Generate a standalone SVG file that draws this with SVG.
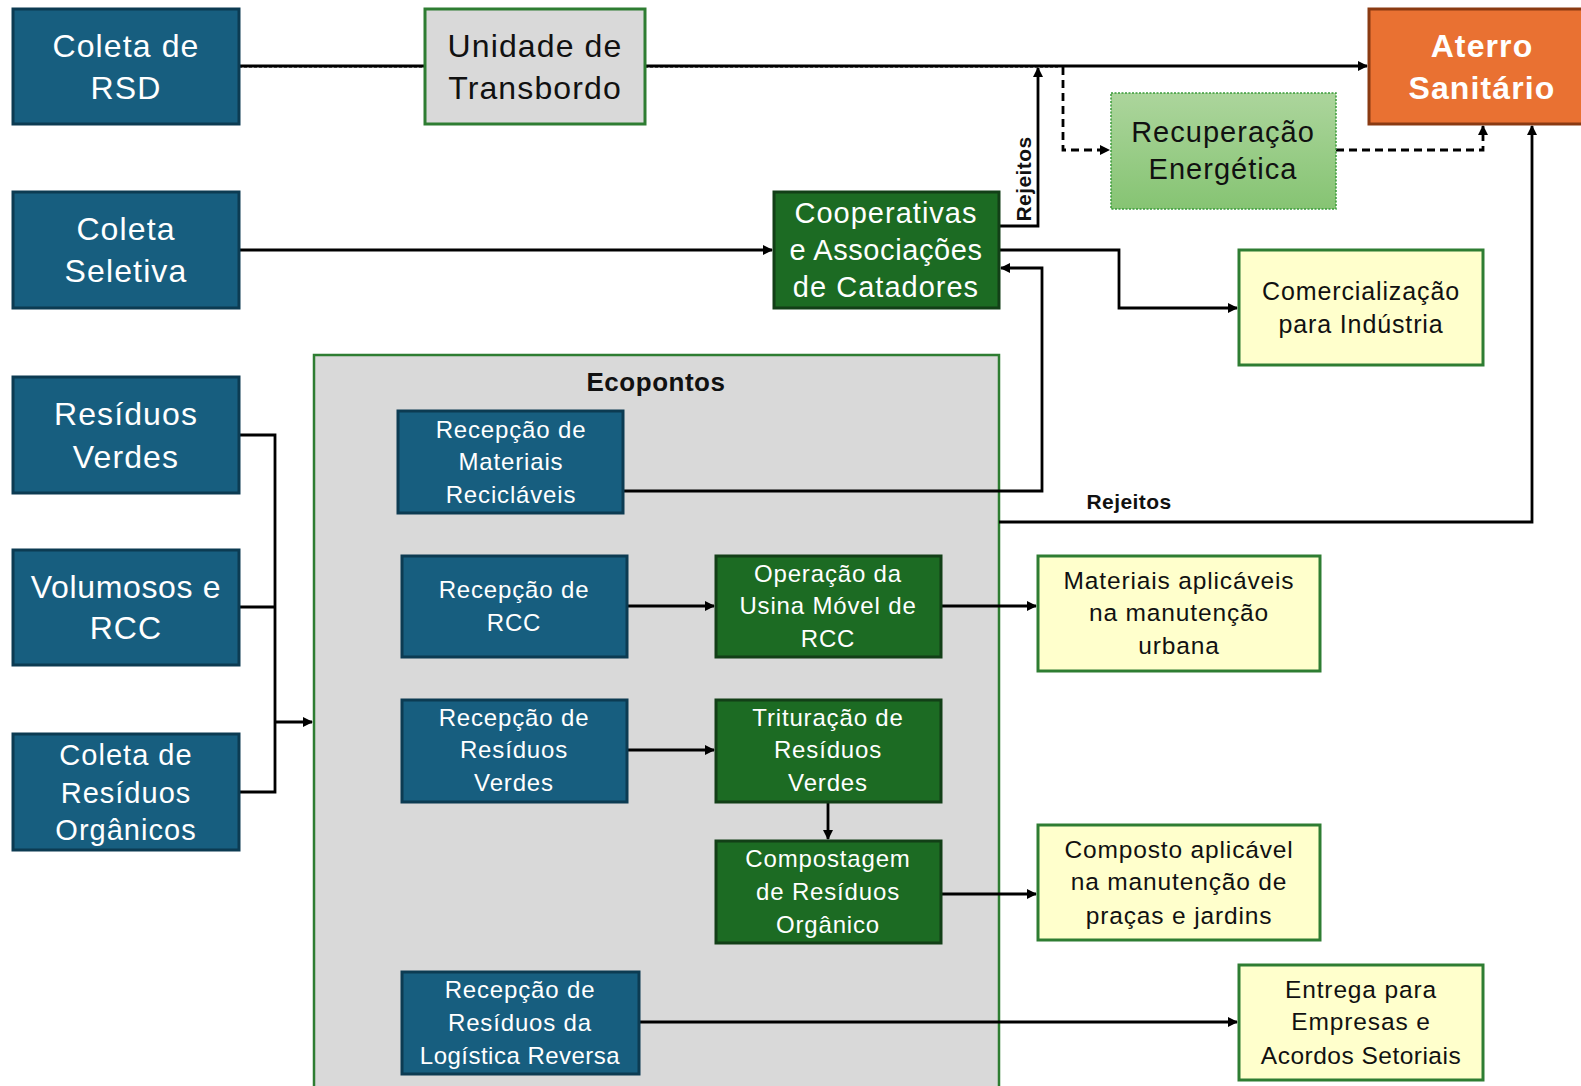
<svg xmlns="http://www.w3.org/2000/svg" width="1581" height="1086" viewBox="0 0 1581 1086">
<defs>
<marker id="arr" viewBox="0 0 10 10" refX="9" refY="5" markerWidth="10" markerHeight="10" markerUnits="userSpaceOnUse" orient="auto">
<path d="M0,0 L10,5 L0,10 z" fill="#000"/>
</marker>
<linearGradient id="gRec" x1="0" y1="0" x2="0" y2="1">
<stop offset="0" stop-color="#acd59c"/>
<stop offset="1" stop-color="#86c473"/>
</linearGradient>
<style>
text{font-family:"Liberation Sans",Arial,sans-serif;text-anchor:middle;letter-spacing:0.035em}
.blue{fill:#175e7f;stroke:#0c3b52;stroke-width:3}
.dgreen{fill:#1c6b23;stroke:#123f17;stroke-width:3}
.yellow{fill:#ffffcc;stroke:#2e7d32;stroke-width:3}
.w{fill:#fff}
.k{fill:#111}
.lab{font-size:21px;font-weight:bold;fill:#111;letter-spacing:0.02em}
.ln{fill:none;stroke:#000;stroke-width:2.8}
.dash{fill:none;stroke:#000;stroke-width:2.8;stroke-dasharray:8 5}
</style>
</defs>
<rect width="1581" height="1086" fill="#fff"/>

<g id="ecopontos">
<rect x="314" y="355" width="685" height="740" fill="#d9d9d9" stroke="#2e7d32" stroke-width="2.5"/>
<text x="656" y="391" font-size="26" font-weight="bold" class="k" style="letter-spacing:0.02em">Ecopontos</text>
</g>

<g id="connectors">
<line x1="239" y1="66" x2="425" y2="66" class="ln"/>
<line x1="239" y1="67" x2="425" y2="67" stroke="#000" stroke-width="1.2" stroke-dasharray="3 2"/>
<line x1="645" y1="66" x2="1367" y2="66" class="ln" marker-end="url(#arr)"/>
<line x1="645" y1="67" x2="1060" y2="67" stroke="#000" stroke-width="1.2" stroke-dasharray="3 2"/>
<path d="M1063,67 V150 H1109" class="dash" marker-end="url(#arr)"/>
<path d="M1336,150 H1483 V126" class="dash" marker-end="url(#arr)"/>
<path d="M999,226 H1038 V68" class="ln" marker-end="url(#arr)"/>
<line x1="239" y1="250" x2="772" y2="250" class="ln" marker-end="url(#arr)"/>
<path d="M999,250 H1119 V308 H1237" class="ln" marker-end="url(#arr)"/>
<path d="M623,491 H1042 V268 H1001" class="ln" marker-end="url(#arr)"/>
<path d="M999,522 H1532 V126" class="ln" marker-end="url(#arr)"/>
<path d="M239,435 H275 V792 H239" class="ln"/>
<line x1="239" y1="607" x2="275" y2="607" class="ln"/>
<line x1="275" y1="722" x2="312" y2="722" class="ln" marker-end="url(#arr)"/>
<line x1="627" y1="606" x2="714" y2="606" class="ln" marker-end="url(#arr)"/>
<line x1="941" y1="606" x2="1036" y2="606" class="ln" marker-end="url(#arr)"/>
<line x1="627" y1="750" x2="714" y2="750" class="ln" marker-end="url(#arr)"/>
<line x1="828" y1="802" x2="828" y2="839" class="ln" marker-end="url(#arr)"/>
<line x1="941" y1="894" x2="1036" y2="894" class="ln" marker-end="url(#arr)"/>
<line x1="639" y1="1022" x2="1237" y2="1022" class="ln" marker-end="url(#arr)"/>
<text x="1024" y="186" class="lab" transform="rotate(-90 1024 179)">Rejeitos</text>
<text x="1129" y="509" class="lab">Rejeitos</text>
</g>

<g id="coleta-rsd">
<rect x="13" y="9" width="226" height="115" class="blue"/>
<text x="126" y="57" font-size="32" class="w">Coleta de</text>
<text x="126" y="99" font-size="32" class="w">RSD</text>
</g>
<g id="unidade-transbordo">
<rect x="425" y="9" width="220" height="115" fill="#d9d9d9" stroke="#2e7d32" stroke-width="3"/>
<text x="535" y="57" font-size="32" class="k">Unidade de</text>
<text x="535" y="99" font-size="32" class="k">Transbordo</text>
</g>
<g id="aterro">
<rect x="1369" y="9" width="215" height="115" fill="#e97132" stroke="#8a3a12" stroke-width="3"/>
<text x="1482" y="57" font-size="32" font-weight="bold" class="w">Aterro</text>
<text x="1482" y="99" font-size="32" font-weight="bold" class="w">Sanitário</text>
</g>
<g id="recuperacao">
<rect x="1111" y="93" width="225" height="116" fill="url(#gRec)" stroke="#3a9a3a" stroke-width="1.5" stroke-dasharray="2 1.5"/>
<text x="1223" y="142" font-size="29" class="k">Recuperação</text>
<text x="1223" y="179" font-size="29" class="k">Energética</text>
</g>
<g id="coleta-seletiva">
<rect x="13" y="192" width="226" height="116" class="blue"/>
<text x="126" y="240" font-size="32" class="w">Coleta</text>
<text x="126" y="282" font-size="32" class="w">Seletiva</text>
</g>
<g id="cooperativas">
<rect x="774" y="192" width="225" height="116" class="dgreen"/>
<text x="886" y="223" font-size="29" class="w">Cooperativas</text>
<text x="886" y="260" font-size="29" class="w" style="letter-spacing:0.02em">e Associações</text>
<text x="886" y="297" font-size="29" class="w">de Catadores</text>
</g>
<g id="comercializacao">
<rect x="1239" y="250" width="244" height="115" class="yellow"/>
<text x="1361" y="300" font-size="25" class="k">Comercialização</text>
<text x="1361" y="333" font-size="25" class="k">para Indústria</text>
</g>
<g id="residuos-verdes">
<rect x="13" y="377" width="226" height="116" class="blue"/>
<text x="126" y="425" font-size="32" class="w">Resíduos</text>
<text x="126" y="468" font-size="32" class="w">Verdes</text>
</g>
<g id="volumosos-rcc">
<rect x="13" y="550" width="226" height="115" class="blue"/>
<text x="126" y="598" font-size="32" class="w" style="letter-spacing:0.02em">Volumosos e</text>
<text x="126" y="639" font-size="32" class="w">RCC</text>
</g>
<g id="coleta-organicos">
<rect x="13" y="734" width="226" height="116" class="blue"/>
<text x="126" y="765" font-size="29" class="w">Coleta de</text>
<text x="126" y="803" font-size="29" class="w">Resíduos</text>
<text x="126" y="840" font-size="29" class="w">Orgânicos</text>
</g>
<g id="recepcao-reciclaveis">
<rect x="398" y="411" width="225" height="102" class="blue"/>
<text x="511" y="438" font-size="24" class="w">Recepção de</text>
<text x="511" y="470" font-size="24" class="w">Materiais</text>
<text x="511" y="503" font-size="24" class="w">Recicláveis</text>
</g>
<g id="recepcao-rcc">
<rect x="402" y="556" width="225" height="101" class="blue"/>
<text x="514" y="598" font-size="24" class="w">Recepção de</text>
<text x="514" y="631" font-size="24" class="w">RCC</text>
</g>
<g id="operacao-usina">
<rect x="716" y="556" width="225" height="101" class="dgreen"/>
<text x="828" y="582" font-size="24" class="w">Operação da</text>
<text x="828" y="614" font-size="24" class="w">Usina Móvel de</text>
<text x="828" y="647" font-size="24" class="w">RCC</text>
</g>
<g id="materiais-aplicaveis">
<rect x="1038" y="556" width="282" height="115" class="yellow"/>
<text x="1179" y="589" font-size="24.5" class="k">Materiais aplicáveis</text>
<text x="1179" y="621" font-size="24.5" class="k">na manutenção</text>
<text x="1179" y="654" font-size="24.5" class="k">urbana</text>
</g>
<g id="recepcao-verdes">
<rect x="402" y="700" width="225" height="102" class="blue"/>
<text x="514" y="726" font-size="24" class="w">Recepção de</text>
<text x="514" y="758" font-size="24" class="w">Resíduos</text>
<text x="514" y="791" font-size="24" class="w">Verdes</text>
</g>
<g id="trituracao">
<rect x="716" y="700" width="225" height="102" class="dgreen"/>
<text x="828" y="726" font-size="24" class="w">Trituração de</text>
<text x="828" y="758" font-size="24" class="w">Resíduos</text>
<text x="828" y="791" font-size="24" class="w">Verdes</text>
</g>
<g id="compostagem">
<rect x="716" y="841" width="225" height="102" class="dgreen"/>
<text x="828" y="867" font-size="24" class="w">Compostagem</text>
<text x="828" y="900" font-size="24" class="w">de Resíduos</text>
<text x="828" y="933" font-size="24" class="w">Orgânico</text>
</g>
<g id="composto-aplicavel">
<rect x="1038" y="825" width="282" height="115" class="yellow"/>
<text x="1179" y="858" font-size="24.5" class="k">Composto aplicável</text>
<text x="1179" y="890" font-size="24.5" class="k">na manutenção de</text>
<text x="1179" y="924" font-size="24.5" class="k">praças e jardins</text>
</g>
<g id="recepcao-logistica">
<rect x="402" y="972" width="237" height="102" class="blue"/>
<text x="520" y="998" font-size="24" class="w">Recepção de</text>
<text x="520" y="1031" font-size="24" class="w">Resíduos da</text>
<text x="520" y="1064" font-size="24" class="w" style="letter-spacing:0.02em">Logística Reversa</text>
</g>
<g id="entrega-empresas">
<rect x="1239" y="965" width="244" height="115" class="yellow"/>
<text x="1361" y="998" font-size="24.5" class="k">Entrega para</text>
<text x="1361" y="1030" font-size="24.5" class="k">Empresas e</text>
<text x="1361" y="1064" font-size="24.5" class="k" style="letter-spacing:0.02em">Acordos Setoriais</text>
</g>
</svg>
